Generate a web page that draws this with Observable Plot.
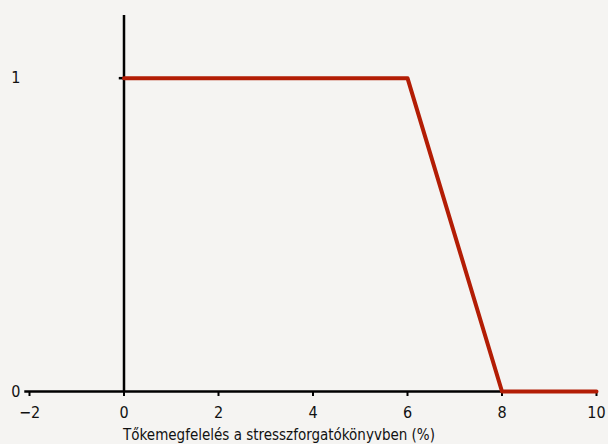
<!DOCTYPE html>
<html>
<head>
<meta charset="utf-8">
<script src="https://cdn.jsdelivr.net/npm/d3@7"></script>
<script src="https://cdn.jsdelivr.net/npm/@observablehq/plot@0.6"></script>
<style>
  html, body { margin: 0; padding: 0; background: #f5f4f2; }
  #chart svg { display: block; }
</style>
</head>
<body>
<div id="chart"></div>
<script>
// Data
const capitalAdequacy = [0, 6, 8, 10];   // x: Tőkemegfelelés (%)
const weight = [1, 1, 0, 0];             // y
const xTicks = [-2, 0, 2, 4, 6, 8, 10];
const yTicks = [0, 1];
const yTickAnchors = [-2, 0];            // where each y tick mark sits on x
const xLabel = "Tőkemegfelelés a stresszforgatókönyvben (%)";

const data = capitalAdequacy.map((x, i) => ({x, y: weight[i]}));
const yTickMarks = yTicks.map((y, i) => ({y, x2: yTickAnchors[i], x1: yTickAnchors[i] - 0.1}));

const chart = Plot.plot({
  width: 608,
  height: 444,
  marginLeft: 29,
  marginRight: 12,
  marginTop: 15,
  marginBottom: 53,
  style: {background: "#f5f4f2", fontFamily: "'DejaVu Sans Condensed', 'DejaVu Sans', sans-serif", fontSize: "15px", color: "#111"},
  x: {domain: [-2, 10]},
  y: {domain: [0, 1.2]},
  marks: [
    Plot.axisX({ticks: xTicks, tickSize: 5, tickPadding: 10, label: null, tickFormat: d => d < 0 ? "\u2212" + Math.abs(d) : String(d), fontSize: 16, stroke: "#000", strokeWidth: 2}),
    Plot.axisY({ticks: yTicks, tickSize: 0, tickPadding: 9, label: null, tickFormat: d => String(d), fontSize: 16}),
    Plot.ruleY(yTickMarks, {y: "y", x1: "x1", x2: "x2", stroke: "#000", strokeWidth: 2.5}),
    Plot.ruleY([0], {stroke: "#000", strokeWidth: 2.5}),
    Plot.ruleX([0], {y1: 0, y2: 1.2, stroke: "#000", strokeWidth: 2.5}),
    Plot.line(data, {x: "x", y: "y", stroke: "#b31d05", strokeWidth: 4}),
    Plot.text([xLabel], {frameAnchor: "bottom", dy: 48, dx: -34, fontSize: 15, fill: "#111"})
  ]
});
document.getElementById("chart").appendChild(chart);
</script>
</body>
</html>
